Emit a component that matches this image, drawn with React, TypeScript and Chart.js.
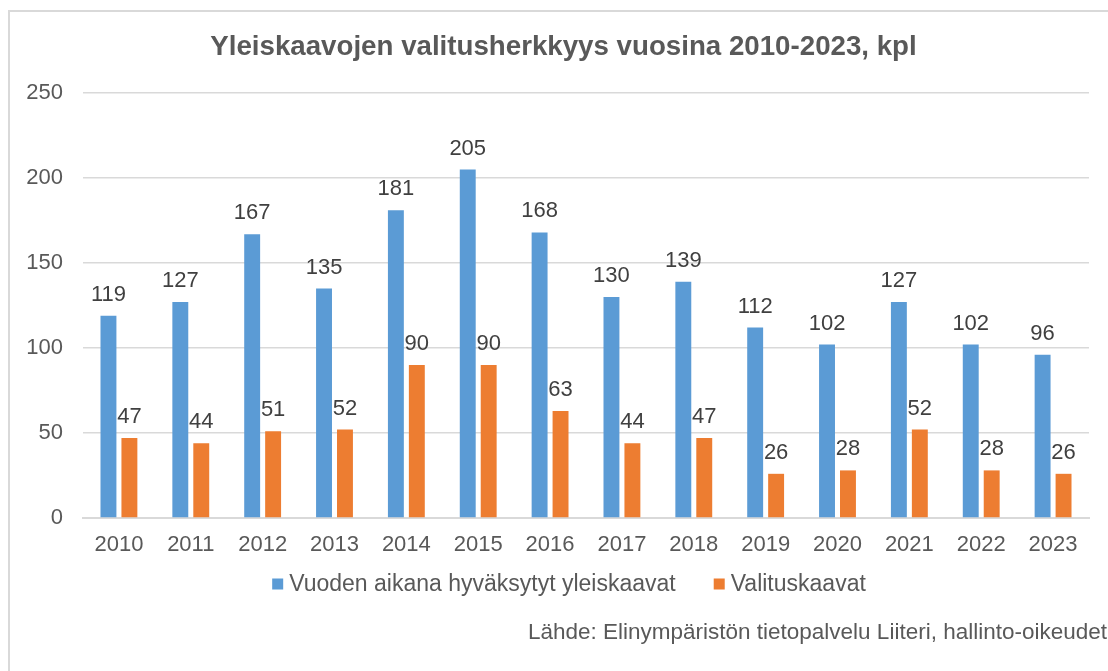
import React, { useEffect, useRef } from "react";
import { Chart, registerables } from "chart.js";

Chart.register(...registerables);

const years = ["2010", "2011", "2012", "2013", "2014", "2015", "2016", "2017", "2018", "2019", "2020", "2021", "2022", "2023"];
const approved = [119, 127, 167, 135, 181, 205, 168, 130, 139, 112, 102, 127, 102, 96];
const appealed = [47, 44, 51, 52, 90, 90, 63, 44, 47, 26, 28, 52, 28, 26];
const seriesNames = ["Vuoden aikana hyväksytyt yleiskaavat", "Valituskaavat"];
const seriesColors = ["#5B9BD5", "#ED7D31"];
const titleText = "Yleiskaavojen valitusherkkyys vuosina 2010-2023, kpl";
const sourceText = "Lähde: Elinympäristön tietopalvelu Liiteri, hallinto-oikeudet";

const FONT = "'Liberation Sans', Arial, sans-serif";

const dataLabels = {
  id: "dataLabels",
  afterDatasetsDraw(chart: any) {
    const ctx = chart.ctx;
    ctx.save();
    ctx.font = `22px ${FONT}`;
    ctx.fillStyle = "#404040";
    ctx.textAlign = "center";
    ctx.textBaseline = "alphabetic";
    chart.data.datasets.forEach((ds: any, di: number) => {
      const meta = chart.getDatasetMeta(di);
      meta.data.forEach((el: any, i: number) => {
        ctx.fillText(String(ds.data[i]), el.x, el.y - 15);
      });
    });
    ctx.restore();
  },
};

// Legend drawn below the x axis, Excel-style spacing
const bottomLegend = {
  id: "bottomLegend",
  afterDraw(chart: any) {
    const ctx = chart.ctx;
    const box = 11;
    const gap = 6;
    const itemGap = 38;
    ctx.save();
    ctx.font = `23px ${FONT}`;
    ctx.textBaseline = "middle";
    ctx.textAlign = "left";
    const items = chart.data.datasets.map((ds: any) => ({
      text: ds.label,
      color: ds.backgroundColor,
      w: ctx.measureText(ds.label).width,
    }));
    const total = items.reduce((s: number, it: any) => s + box + gap + it.w, 0) + itemGap * (items.length - 1);
    let x = chart.width / 2 + 2 - total / 2;
    const cy = chart.chartArea.bottom + 66;
    items.forEach((it: any) => {
      ctx.fillStyle = it.color;
      ctx.fillRect(x, cy - 5.5, box, box);
      ctx.fillStyle = "#595959";
      ctx.fillText(it.text, x + box + gap, cy + 1);
      x += box + gap + it.w + itemGap;
    });
    ctx.restore();
  },
};

export default function App() {
  const ref = useRef<HTMLCanvasElement | null>(null);
  useEffect(() => {
    if (!ref.current) return;
    const chart = new Chart(ref.current, {
      type: "bar",
      data: {
        labels: years,
        datasets: [
          { label: seriesNames[0], data: approved, backgroundColor: seriesColors[0], categoryPercentage: 0.583, barPercentage: 0.76 },
          { label: seriesNames[1], data: appealed, backgroundColor: seriesColors[1], categoryPercentage: 0.583, barPercentage: 0.76 },
        ],
      },
      options: {
        animation: false,
        responsive: false,
        maintainAspectRatio: false,
        layout: { padding: { left: 0, right: 7, top: 0, bottom: 96 } },
        scales: {
          x: {
            grid: { display: false, drawTicks: false },
            border: { display: true, color: "#d9d9d9", width: 2 },
            ticks: { color: "#595959", font: { family: FONT, size: 22 }, padding: 14, maxRotation: 0 },
            afterFit: (s: any) => { s.height = 38; },
          },
          y: {
            min: 0,
            max: 250,
            ticks: { stepSize: 50, color: "#595959", font: { family: FONT, size: 22 }, padding: 20 },
            grid: { color: "#d9d9d9", lineWidth: 1.5, drawTicks: false },
            border: { display: false },
            afterFit: (s: any) => { s.width = 73; },
          },
          y2: {
            type: "linear",
            position: "right",
            display: true,
            grid: { display: false, drawTicks: false },
            border: { display: false },
            ticks: { display: false },
            afterFit: (s: any) => { s.width = 28; },
          },
        },
        plugins: {
          title: {
            display: true,
            text: titleText,
            color: "#595959",
            font: { family: FONT, size: 27.7, weight: "bold" },
            padding: { top: 18.4, bottom: 29.4 },
          },
          legend: { display: false },
          tooltip: { enabled: false },
        },
      },
      plugins: [dataLabels, bottomLegend],
    });
    return () => chart.destroy();
  }, []);

  return (
    <div style={{ position: "fixed", left: 0, top: 0, width: 1108, height: 671, overflow: "hidden", background: "#fff" }}>
      <div style={{ position: "absolute", left: 8, top: 10, width: 1114, height: 700, border: "2px solid #d9d9d9", background: "#fff" }}>
        <canvas ref={ref} width={1114} height={640} style={{ display: "block" }} />
        <div style={{ position: "absolute", left: 0, top: 607, width: 1097, textAlign: "right", font: `22.5px ${FONT}`, color: "#595959", whiteSpace: "nowrap" }}>
          {sourceText}
        </div>
      </div>
    </div>
  );
}
